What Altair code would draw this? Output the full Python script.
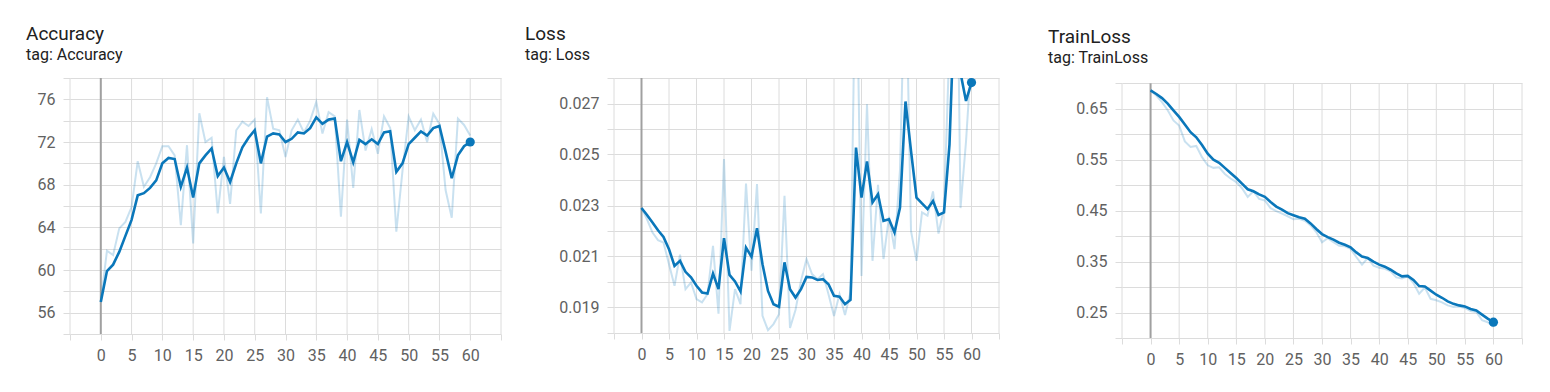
import altair as alt
import pandas as pd

steps = list(range(61))

acc_raw = [57.0, 61.8, 61.4, 63.9, 64.5, 65.9, 70.2, 67.8, 68.7, 70.0,
           71.6, 71.6, 70.75, 64.2, 71.7, 62.5, 74.7, 72.0, 72.4, 65.3,
           70.6, 66.2, 73.1, 73.9, 73.5, 74.1, 65.3, 76.2, 73.25, 73.1,
           70.6, 73.1, 74.1, 72.9, 74.0, 75.75, 72.8, 74.8, 74.4, 65.0,
           74.1, 67.7, 75.0, 71.2, 73.2, 70.9, 74.4, 73.3, 63.6, 69.3,
           74.4, 73.1, 74.1, 72.0, 74.65, 73.7, 67.5, 64.9, 74.2, 73.6,
           72.6]
acc_smooth = [57.0, 59.9, 60.5, 61.7, 63.2, 64.7, 67.0, 67.2, 67.7, 68.4,
              70.0, 70.5, 70.4, 67.8, 69.6, 66.8, 70.0, 70.75, 71.4, 68.8,
              69.6, 68.25, 70.0, 71.5, 72.4, 73.1, 70.0, 72.5, 72.8, 72.7,
              72.0, 72.3, 72.9, 72.8, 73.3, 74.3, 73.7, 74.1, 74.2, 70.2,
              72.0, 70.1, 72.2, 71.8, 72.25, 71.8, 72.9, 73.0, 69.2, 70.0,
              71.8, 72.4, 73.0, 72.6, 73.3, 73.5, 71.1, 68.6, 70.75, 71.6,
              72.0]

loss_raw = [0.02290, 0.02246, 0.02194, 0.02164, 0.02155, 0.02070, 0.01985, 0.02107, 0.01972, 0.01998,
            0.01933, 0.01920, 0.01952, 0.02142, 0.01876, 0.02482, 0.01808, 0.01972, 0.01913, 0.02386,
            0.02044, 0.02384, 0.01867, 0.01811, 0.01835, 0.01874, 0.02338, 0.01820, 0.01890, 0.02005,
            0.02090, 0.02031, 0.02011, 0.02031, 0.01952, 0.01867, 0.01952, 0.01871, 0.01960, 0.03420,
            0.02024, 0.02697, 0.02083, 0.02381, 0.02090, 0.02255, 0.02129, 0.02440, 0.03330, 0.02200,
            0.02083, 0.02273, 0.02260, 0.02355, 0.02190, 0.02290, 0.02940, 0.04000, 0.02290, 0.02550,
            0.02890]
loss_smooth = [0.02290, 0.02263, 0.02233, 0.02203, 0.02177, 0.02129, 0.02063, 0.02083, 0.02040, 0.02018,
               0.01985, 0.01959, 0.01955, 0.02033, 0.01972, 0.02172, 0.02028, 0.02002, 0.01963, 0.02135,
               0.02099, 0.02211, 0.02070, 0.01965, 0.01913, 0.01903, 0.02077, 0.01972, 0.01939, 0.01972,
               0.02020, 0.02018, 0.02008, 0.02011, 0.01991, 0.01946, 0.01942, 0.01913, 0.01930, 0.02527,
               0.02331, 0.02473, 0.02312, 0.02344, 0.02240, 0.02246, 0.02194, 0.02292, 0.02708, 0.02514,
               0.02331, 0.02308, 0.02286, 0.02318, 0.02263, 0.02273, 0.02540, 0.03150, 0.02820, 0.02710,
               0.02782]

train_raw = [0.686, 0.676, 0.663, 0.647, 0.627, 0.617, 0.586, 0.575, 0.577, 0.555,
             0.539, 0.534, 0.535, 0.522, 0.513, 0.506, 0.494, 0.477, 0.488, 0.473,
             0.470, 0.455, 0.449, 0.444, 0.439, 0.433, 0.434, 0.430, 0.421, 0.408,
             0.388, 0.396, 0.388, 0.381, 0.380, 0.375, 0.359, 0.344, 0.357, 0.342,
             0.338, 0.336, 0.331, 0.319, 0.317, 0.321, 0.308, 0.287, 0.299, 0.277,
             0.274, 0.270, 0.264, 0.261, 0.262, 0.259, 0.253, 0.251, 0.235, 0.231,
             0.222]
train_smooth = [0.686, 0.679, 0.671, 0.660, 0.647, 0.634, 0.619, 0.604, 0.594, 0.579,
                0.562, 0.550, 0.544, 0.534, 0.524, 0.514, 0.503, 0.492, 0.488, 0.482,
                0.477, 0.467, 0.458, 0.452, 0.445, 0.441, 0.437, 0.434, 0.425, 0.414,
                0.404, 0.398, 0.393, 0.387, 0.383, 0.378, 0.368, 0.360, 0.357, 0.350,
                0.344, 0.340, 0.334, 0.327, 0.321, 0.322, 0.314, 0.302, 0.301, 0.293,
                0.285, 0.279, 0.272, 0.267, 0.264, 0.262, 0.257, 0.254, 0.246, 0.238,
                0.231]

x_ticks = [-5, 0, 5, 10, 15, 20, 25, 30, 35, 40, 45, 50, 55, 60, 65]
acc_ticks = [54, 56, 58, 60, 62, 64, 66, 68, 70, 72, 74, 76, 78]
loss_ticks = [0.018, 0.019, 0.020, 0.021, 0.022, 0.023, 0.024, 0.025, 0.026, 0.027, 0.028]
train_ticks = [0.20, 0.25, 0.30, 0.35, 0.40, 0.45, 0.50, 0.55, 0.60, 0.65, 0.70]

BLUE = "#0a77ba"
GRID = "#dcdcdc"
ZERO = "#a0a0a0"
LABEL = "#616161"
TITLE = "#212121"


def panel(name, raw, smooth, ydomain, yticks, grid_top, label_expr,
          width, height, title_dx, title_offset):
    df = pd.DataFrame({"step": steps, "raw": raw, "smooth": smooth})
    gdf = pd.DataFrame({"x": x_ticks,
                        "y": [yticks[0]] * len(x_ticks),
                        "y2": [grid_top] * len(x_ticks)})
    zdf = pd.DataFrame({"x": [0], "y": [yticks[0]], "y2": [grid_top]})
    xs = alt.Scale(domain=[-5, 65], nice=False, zero=False)
    ys = alt.Scale(domain=ydomain, nice=False, zero=False)
    xa = alt.Axis(values=x_ticks, grid=False, domain=False, tickSize=6,
                  tickColor=GRID, tickWidth=1, labelPadding=7.5,
                  labelExpr="datum.value < 0 || datum.value > 60 ? '' : datum.label",
                  labelFlush=False, labelOverlap=False, title=None, format="d")
    ya = alt.Axis(values=yticks, grid=True, gridColor=GRID, gridWidth=1,
                  domain=False, tickSize=7, tickColor=GRID, tickWidth=1,
                  labelPadding=8, labelExpr=label_expr, labelOverlap=False,
                  labelFlush=False, title=None)

    def X(f):
        return alt.X(f, type="quantitative", scale=xs, axis=xa)

    def Y(f):
        return alt.Y(f, type="quantitative", scale=ys, axis=ya)

    vgrid = alt.Chart(gdf).mark_rule(color=GRID, strokeWidth=1).encode(
        x=X("x"), y=Y("y"), y2=alt.Y2("y2"))
    zero = alt.Chart(zdf).mark_rule(color=ZERO, strokeWidth=2).encode(
        x=X("x"), y=Y("y"), y2=alt.Y2("y2"))
    raw_line = alt.Chart(df).mark_line(color=BLUE, opacity=0.22, strokeWidth=2,
                                        clip=True).encode(x=X("step"), y=Y("raw"))
    sm_line = alt.Chart(df).mark_line(color=BLUE, strokeWidth=2.6,
                                       clip=True).encode(x=X("step"), y=Y("smooth"))
    dot = alt.Chart(df).transform_filter("datum.step == 60").mark_circle(
        color=BLUE, size=85, opacity=1).encode(x=X("step"), y=Y("smooth"))
    return alt.layer(vgrid, zero, raw_line, sm_line, dot).properties(
        width=width, height=height,
        title=alt.TitleParams(text=name, subtitle="tag: " + name, anchor="start",
                              frame="group", dx=title_dx, offset=title_offset,
                              font="Roboto", fontSize=19, fontWeight="normal",
                              color=TITLE, subtitleFont="Roboto",
                              subtitleFontSize=16, subtitleColor=TITLE,
                              subtitlePadding=3))


p1 = panel("Accuracy", acc_raw, acc_smooth, [54, 78], acc_ticks, 78,
           "datum.value % 4 == 0 ? datum.label : ''", 431, 256, -44, 7)
p2 = panel("Loss", loss_raw, loss_smooth, [0.018, 0.028], loss_ticks, 0.028,
           "round(datum.value * 1000) % 2 == 1 ? format(datum.value, '.3f') : ''",
           385, 255, -89, 7)
p3 = panel("TrainLoss", train_raw, train_smooth, [0.2, 0.7104], train_ticks, 0.70,
           "round(datum.value * 100) % 10 == 5 ? format(datum.value, '.2f') : ''",
           400, 260, -74, 9)

chart = alt.hconcat(alt.hconcat(p1, p2, spacing=23), p3, spacing=48).properties(
    padding={"left": 18, "top": 17, "right": 5, "bottom": 5}
).configure(font="Roboto").configure_view(stroke=None).configure_axis(
    labelFont="Roboto", labelFontSize=16, labelColor=LABEL
)

chart.save("out.html", embed_options={"renderer": "svg", "actions": False})
